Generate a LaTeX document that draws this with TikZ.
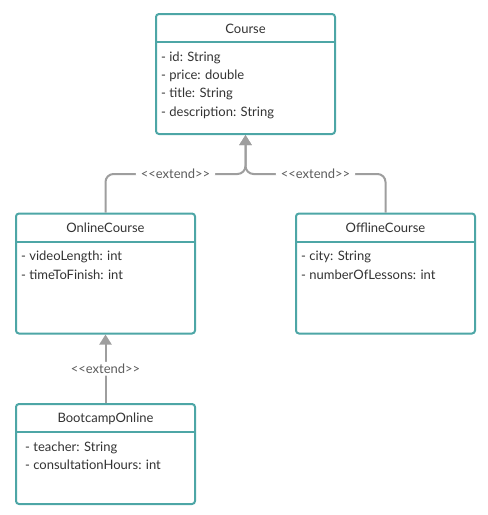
\documentclass[tikz,border=0pt]{standalone}
\usepackage{fontspec}
\setmainfont{Lato}
\usepackage{tikz}
\usetikzlibrary{arrows.meta}

\definecolor{umlteal}{HTML}{4DA6A6}
\definecolor{umlgrey}{HTML}{9E9E9E}
\definecolor{umltext}{HTML}{333333}

\tikzset{
  classbox/.style={draw=umlteal, line width=2pt, rounded corners=3pt, fill=white,
    minimum width=179pt, inner sep=0pt},
  divider/.style={draw=umlteal, line width=2pt},
  classtitle/.style={text=umltext, font=\fontsize{13}{15}\selectfont, inner sep=0pt},
  attr/.style={text=umltext, font=\fontsize{13}{15}\selectfont, inner sep=0pt, anchor=base west},
  extend/.style={draw=umlgrey, line width=2pt, rounded corners=8pt,
    -{Triangle[width=12pt,length=10pt]}},
  stereo/.style={fill=white, text=umltext!80, font=\fontsize{13}{15}\selectfont,
    inner xsep=5pt, inner ysep=2pt}
}

\begin{document}
\begin{tikzpicture}[x=1pt, y=-1pt]

\useasboundingbox (0,0) rectangle (488,515);

% class boxes
\node[classbox, minimum height=120pt] (course) at (245.5,74) {};
\node[classbox, minimum height=120pt] (online) at (105.5,273.5) {};
\node[classbox, minimum height=120pt] (offline) at (385.5,273.5) {};
\node[classbox, minimum height=100pt] (bootcamp) at (105.5,454) {};

% header lines
\foreach \c in {course, online, offline, bootcamp}
  \draw[divider] ([yshift=-29pt]\c.north west) -- ([yshift=-29pt]\c.north east);

% titles
\node[classtitle] (course-title) at ([yshift=-15.5pt]course.north) {Course};
\node[classtitle] (online-title) at ([yshift=-15.5pt]online.north) {OnlineCourse};
\node[classtitle] (offline-title) at ([yshift=-15.5pt]offline.north) {OfflineCourse};
\node[classtitle] (bootcamp-title) at ([yshift=-15.5pt]bootcamp.north) {BootcampOnline};

% attributes
\foreach \t [count=\i] in {- id: String, - price: double, - title: String, - description: String}
  \node[attr] (course-a\i) at ([xshift=6pt, yshift={(-30-18.3*\i)*1pt}]course.north west) {\t};
\foreach \t [count=\i] in {- videoLength: int, - timeToFinish: int}
  \node[attr] (online-a\i) at ([xshift=6pt, yshift={(-30-18.3*\i)*1pt}]online.north west) {\t};
\foreach \t [count=\i] in {- city: String, - numberOfLessons: int}
  \node[attr] (offline-a\i) at ([xshift=6pt, yshift={(-30-18.3*\i)*1pt}]offline.north west) {\t};
\foreach \t [count=\i] in {- teacher: String, - consultationHours: int}
  \node[attr] (bootcamp-a\i) at ([xshift=10pt, yshift={(-30-18.3*\i)*1pt}]bootcamp.north west) {\t};

% generalisations
\coordinate (fork) at (245.5,174);
\draw[extend] (online.north) |- node[stereo, pos=0.75] (ext-online) {<{}<extend>{}>} (fork) -- (course.south);
\draw[extend] (offline.north) |- node[stereo, pos=0.75] (ext-offline) {<{}<extend>{}>} (fork) -- (course.south);
\draw[extend] (bootcamp.north) -- node[stereo] (ext-bootcamp) {<{}<extend>{}>} (online.south);

\end{tikzpicture}
\end{document}
